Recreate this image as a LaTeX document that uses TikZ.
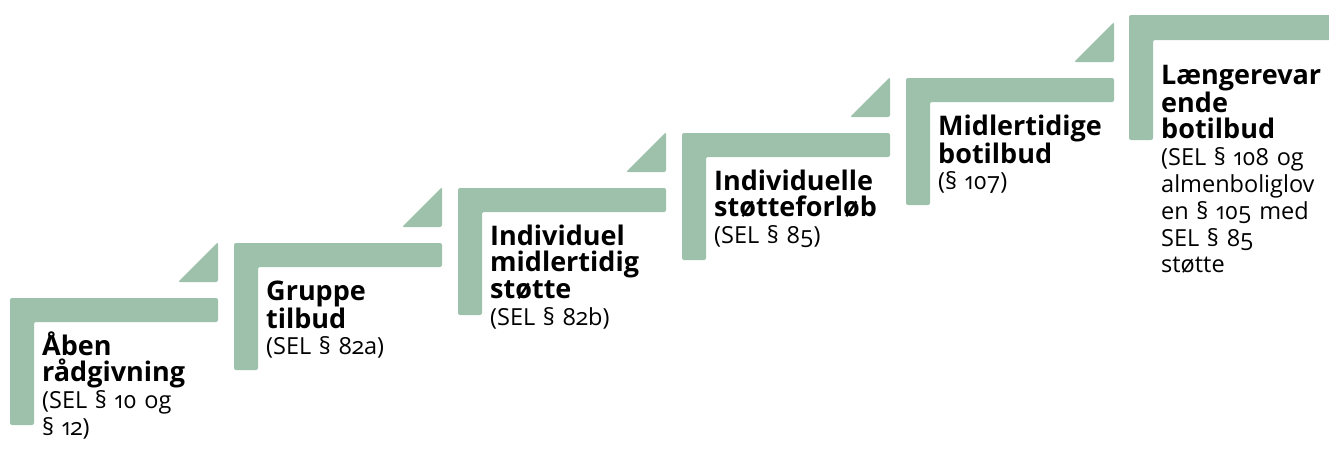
\documentclass[tikz,border=0pt]{standalone}
\usepackage{fontspec}
\setmainfont{Open Sans}[Numbers=OldStyle, WordSpace=1.25]
\definecolor{sage}{RGB}{157,193,171}
\newcommand{\ttl}[1]{{\fontsize{27}{26.8}\selectfont\bfseries #1}}
\tikzset{
  stepfill/.style={fill=sage, draw=none, rounded corners=2pt},
  steptext/.style={anchor=base west, inner sep=0pt, font=\fontsize{23.5}{26.8}\selectfont},
}
\newcommand{\stepL}[2]{%
  \fill[stepfill] (#1,#2) -- ++(208,0) -- ++(0,24) -- ++(-184,0) -- ++(0,103) -- ++(-24,0) -- cycle;
  \fill[stepfill] (#1+168,#2-16) -- (#1+208,#2-16) -- (#1+208,#2-56) -- cycle;
}
\begin{document}
\begin{tikzpicture}[x=1pt,y=-1pt]
\useasboundingbox (0,0) rectangle (1329,448);
\stepL{10}{298}
\stepL{234}{243}
\stepL{458}{188}
\stepL{682}{133}
\stepL{906}{78}
\fill[stepfill] (1129,15) -- (1345,15) -- (1345,40) -- (1153,40) -- (1153,140) -- (1129,140) -- cycle;

\node[steptext] (t1) at (42,355) {\parbox[t]{200pt}{\ttl{Åben}\\\ttl{rådgivning}\\(SEL § 10 og\\§ 12)}};
\node[steptext] (t2) at (266,300) {\parbox[t]{200pt}{\ttl{Gruppe}\\\ttl{tilbud}\\(SEL § 82a)}};
\node[steptext] (t3) at (490,245) {\parbox[t]{200pt}{\ttl{Individuel}\\\ttl{midlertidig}\\\ttl{støtte}\\(SEL § 82b)}};
\node[steptext] (t4) at (714,190) {\parbox[t]{200pt}{\ttl{Individuelle}\\\ttl{støtteforløb}\\(SEL § 85)}};
\node[steptext] (t5) at (938,135) {\parbox[t]{200pt}{\ttl{Midlertidige}\\\ttl{botilbud}\\(§ 107)}};
\node[steptext] (t6) at (1161,84) {\parbox[t]{200pt}{\ttl{Længerevar}\\\ttl{ende}\\\ttl{botilbud}\\(SEL § 108 og\\almenboliglov\\en § 105 med\\SEL § 85\\støtte}};
\end{tikzpicture}
\end{document}
